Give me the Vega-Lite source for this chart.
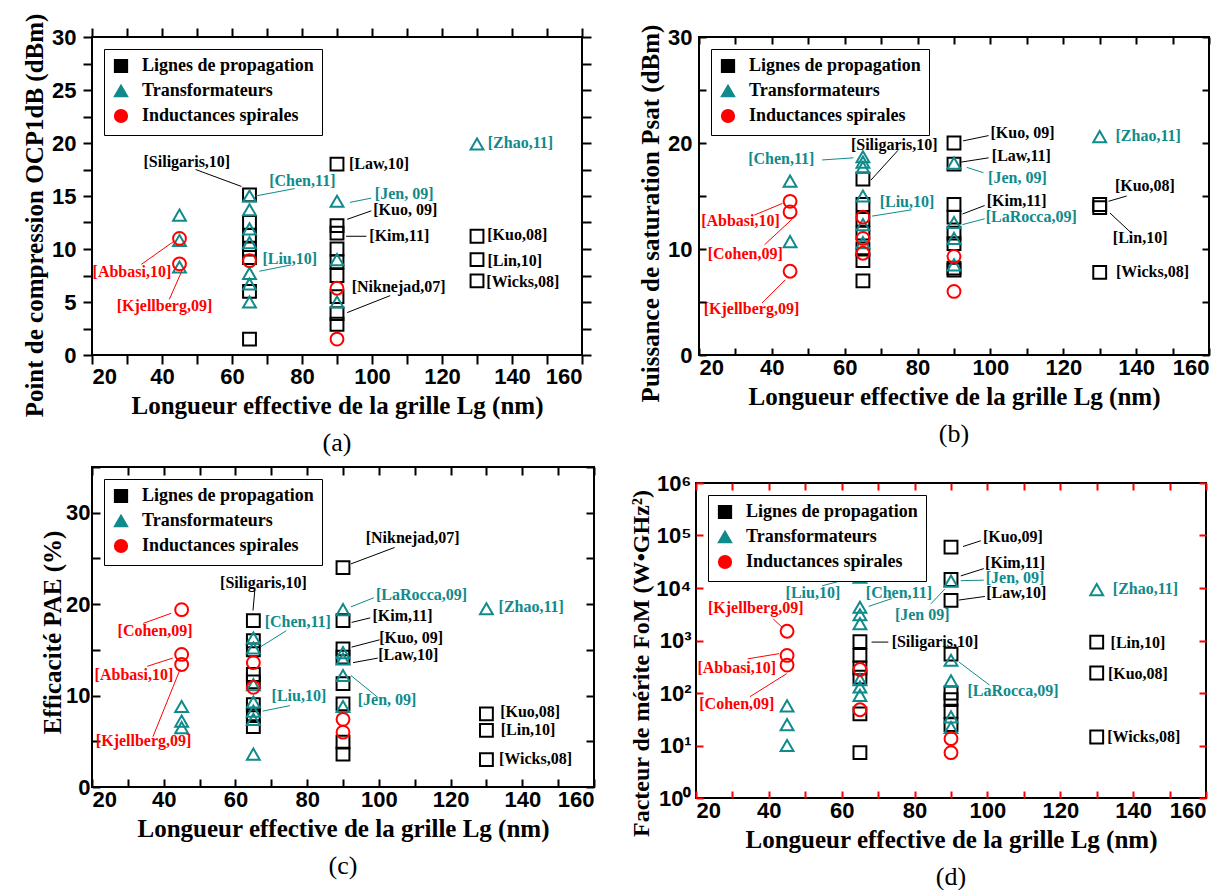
{
"$schema": "https://vega.github.io/schema/vega-lite/v6.json",
"background": "white",
"padding": {"left": 21, "top": 12, "right": 5, "bottom": 0},
"config": {
  "view": {"stroke": "black", "strokeWidth": 2},
  "axis": {"labelFont": "Liberation Sans", "labelFontWeight": "bold", "labelFontSize": 22, "labelColor": "black",
    "titleFont": "Liberation Serif", "titleFontWeight": "bold", "titleFontSize": 25, "titleColor": "black",
    "domain": false, "ticks": true, "tickColor": "black", "tickOpacity": 1, "tickWidth": 2, "tickSize": 7, "offset": -7, "grid": false, "zindex": 1},
  "legend": {"orient": "top-left", "offset": 12, "strokeColor": "black", "fillColor": "white", "padding": 8,
    "labelFont": "Liberation Serif", "labelFontWeight": "bold", "labelFontSize": 18, "labelColor": "black", "labelLimit": 400,
    "symbolStrokeWidth": 2, "symbolSize": 150, "rowPadding": 4, "labelOffset": 12, "symbolFillColor": "transparent"},
  "title": {"font": "Liberation Serif", "fontSize": 26, "fontWeight": "normal", "color": "black"}
},
"datasets": {
"a_pts": [
{"Lg":65,"v":15.1,"type":"Lignes de propagation"},{"Lg":65,"v":12.5,"type":"Lignes de propagation"},{"Lg":65,"v":11.3,"type":"Lignes de propagation"},{"Lg":65,"v":10.0,"type":"Lignes de propagation"},{"Lg":65,"v":9.2,"type":"Lignes de propagation"},{"Lg":65,"v":6.0,"type":"Lignes de propagation"},{"Lg":65,"v":1.5,"type":"Lignes de propagation"},
{"Lg":90,"v":18.0,"type":"Lignes de propagation"},{"Lg":90,"v":12.2,"type":"Lignes de propagation"},{"Lg":90,"v":11.5,"type":"Lignes de propagation"},{"Lg":90,"v":10.0,"type":"Lignes de propagation"},{"Lg":90,"v":8.8,"type":"Lignes de propagation"},{"Lg":90,"v":7.5,"type":"Lignes de propagation"},{"Lg":90,"v":5.5,"type":"Lignes de propagation"},{"Lg":90,"v":3.9,"type":"Lignes de propagation"},{"Lg":90,"v":2.9,"type":"Lignes de propagation"},
{"Lg":130,"v":11.2,"type":"Lignes de propagation"},{"Lg":130,"v":9.0,"type":"Lignes de propagation"},{"Lg":130,"v":7.0,"type":"Lignes de propagation"},
{"Lg":45,"v":13.2,"type":"Transformateurs"},{"Lg":45,"v":10.8,"type":"Transformateurs"},{"Lg":45,"v":8.3,"type":"Transformateurs"},
{"Lg":65,"v":15.0,"type":"Transformateurs"},{"Lg":65,"v":13.7,"type":"Transformateurs"},{"Lg":65,"v":11.9,"type":"Transformateurs"},{"Lg":65,"v":10.6,"type":"Transformateurs"},{"Lg":65,"v":7.7,"type":"Transformateurs"},{"Lg":65,"v":6.7,"type":"Transformateurs"},{"Lg":65,"v":5.0,"type":"Transformateurs"},
{"Lg":90,"v":14.5,"type":"Transformateurs"},{"Lg":90,"v":9.0,"type":"Transformateurs"},{"Lg":90,"v":5.0,"type":"Transformateurs"},{"Lg":130,"v":19.9,"type":"Transformateurs"},
{"Lg":45,"v":11.0,"type":"Inductances spirales"},{"Lg":45,"v":8.6,"type":"Inductances spirales"},{"Lg":65,"v":8.9,"type":"Inductances spirales"},{"Lg":90,"v":6.3,"type":"Inductances spirales"},{"Lg":90,"v":1.5,"type":"Inductances spirales"}
],
"a_lab": [
{"x":47.1,"y":18.2,"label":"[Siligaris,10]","type":"Lignes de propagation"},
{"x":80.1,"y":16.4,"label":"[Chen,11]","type":"Transformateurs"},
{"x":76.5,"y":9.1,"label":"[Liu,10]","type":"Transformateurs"},
{"x":31.4,"y":7.8,"label":"[Abbasi,10]","type":"Inductances spirales"},
{"x":40.7,"y":4.6,"label":"[Kjellberg,09]","type":"Inductances spirales"},
{"x":102.0,"y":18.0,"label":"[Law,10]","type":"Lignes de propagation"},
{"x":109.2,"y":15.2,"label":"[Jen, 09]","type":"Transformateurs"},
{"x":109.5,"y":13.7,"label":"[Kuo, 09]","type":"Lignes de propagation"},
{"x":107.8,"y":11.2,"label":"[Kim,11]","type":"Lignes de propagation"},
{"x":107.6,"y":6.4,"label":"[Niknejad,07]","type":"Lignes de propagation"},
{"x":142.4,"y":20.0,"label":"[Zhao,11]","type":"Transformateurs"},
{"x":141.5,"y":11.3,"label":"[Kuo,08]","type":"Lignes de propagation"},
{"x":140.8,"y":8.9,"label":"[Lin,10]","type":"Lignes de propagation"},
{"x":143.1,"y":6.9,"label":"[Wicks,08]","type":"Lignes de propagation"}
],
"a_arr": [
{"x":49.6,"y":17.5,"x2":62.7,"y2":15.9,"type":"Lignes de propagation"},
{"x":77.9,"y":15.7,"x2":66.7,"y2":15.0,"type":"Transformateurs"},
{"x":76.9,"y":8.5,"x2":67.8,"y2":7.9,"type":"Transformateurs"},
{"x":99.8,"y":14.8,"x2":93.7,"y2":14.4,"type":"Transformateurs"},
{"x":99.8,"y":13.6,"x2":92.9,"y2":12.8,"type":"Lignes de propagation"},
{"x":98.4,"y":11.2,"x2":92.6,"y2":11.2,"type":"Lignes de propagation"},
{"x":105.2,"y":5.6,"x2":92.9,"y2":4.0,"type":"Lignes de propagation"},
{"x":34.1,"y":8.55,"x2":43.5,"y2":10.75,"type":"Inductances spirales"},
{"x":42.1,"y":5.25,"x2":45.9,"y2":8.1,"type":"Inductances spirales"}
],
"b_pts": [
{"Lg":65,"v":16.6,"type":"Lignes de propagation"},{"Lg":65,"v":14.2,"type":"Lignes de propagation"},{"Lg":65,"v":12.8,"type":"Lignes de propagation"},{"Lg":65,"v":11.5,"type":"Lignes de propagation"},{"Lg":65,"v":10.0,"type":"Lignes de propagation"},{"Lg":65,"v":8.9,"type":"Lignes de propagation"},{"Lg":65,"v":7.0,"type":"Lignes de propagation"},
{"Lg":90,"v":20.0,"type":"Lignes de propagation"},{"Lg":90,"v":18.0,"type":"Lignes de propagation"},{"Lg":90,"v":14.2,"type":"Lignes de propagation"},{"Lg":90,"v":13.0,"type":"Lignes de propagation"},{"Lg":90,"v":11.5,"type":"Lignes de propagation"},{"Lg":90,"v":10.5,"type":"Lignes de propagation"},{"Lg":90,"v":8.2,"type":"Lignes de propagation"},{"Lg":90,"v":8.0,"type":"Lignes de propagation"},
{"Lg":130,"v":14.2,"type":"Lignes de propagation"},{"Lg":130,"v":13.9,"type":"Lignes de propagation"},{"Lg":130,"v":7.8,"type":"Lignes de propagation"},
{"Lg":45,"v":16.4,"type":"Transformateurs"},{"Lg":45,"v":10.7,"type":"Transformateurs"},
{"Lg":65,"v":18.7,"type":"Transformateurs"},{"Lg":65,"v":18.2,"type":"Transformateurs"},{"Lg":65,"v":17.7,"type":"Transformateurs"},{"Lg":65,"v":15.0,"type":"Transformateurs"},{"Lg":65,"v":12.3,"type":"Transformateurs"},{"Lg":65,"v":10.6,"type":"Transformateurs"},
{"Lg":90,"v":18.1,"type":"Transformateurs"},{"Lg":90,"v":12.5,"type":"Transformateurs"},{"Lg":90,"v":11.0,"type":"Transformateurs"},{"Lg":90,"v":8.5,"type":"Transformateurs"},{"Lg":130,"v":20.6,"type":"Transformateurs"},
{"Lg":45,"v":14.5,"type":"Inductances spirales"},{"Lg":45,"v":13.5,"type":"Inductances spirales"},{"Lg":45,"v":7.9,"type":"Inductances spirales"},
{"Lg":65,"v":13.0,"type":"Inductances spirales"},{"Lg":65,"v":11.0,"type":"Inductances spirales"},{"Lg":65,"v":9.6,"type":"Inductances spirales"},
{"Lg":90,"v":9.3,"type":"Inductances spirales"},{"Lg":90,"v":6.0,"type":"Inductances spirales"}
],
"b_lab": [
{"x":108.8,"y":20.9,"label":"[Kuo, 09]","type":"Lignes de propagation"},
{"x":108.5,"y":18.8,"label":"[Law,11]","type":"Lignes de propagation"},
{"x":107.4,"y":16.7,"label":"[Jen, 09]","type":"Transformateurs"},
{"x":107.2,"y":14.5,"label":"[Kim,11]","type":"Lignes de propagation"},
{"x":111.2,"y":13.0,"label":"[LaRocca,09]","type":"Transformateurs"},
{"x":143.3,"y":20.7,"label":"[Zhao,11]","type":"Transformateurs"},
{"x":142.4,"y":15.9,"label":"[Kuo,08]","type":"Lignes de propagation"},
{"x":141.1,"y":11.05,"label":"[Lin,10]","type":"Lignes de propagation"},
{"x":144.5,"y":7.8,"label":"[Wicks,08]","type":"Lignes de propagation"},
{"x":42.6,"y":18.5,"label":"[Chen,11]","type":"Transformateurs"},
{"x":73.6,"y":19.8,"label":"[Siligaris,10]","type":"Lignes de propagation"},
{"x":77.1,"y":14.4,"label":"[Liu,10]","type":"Transformateurs"},
{"x":31.4,"y":12.6,"label":"[Abbasi,10]","type":"Inductances spirales"},
{"x":32.7,"y":9.5,"label":"[Cohen,09]","type":"Inductances spirales"},
{"x":34.4,"y":4.3,"label":"[Kjellberg,09]","type":"Inductances spirales"}
],
"b_arr": [
{"x":53.8,"y":18.4,"x2":62.4,"y2":18.6,"type":"Transformateurs"},
{"x":74.6,"y":19.3,"x2":67.2,"y2":16.5,"type":"Lignes de propagation"},
{"x":78.4,"y":13.7,"x2":67.5,"y2":13.1,"type":"Transformateurs"},
{"x":35.2,"y":13.2,"x2":42.9,"y2":14.3,"type":"Inductances spirales"},
{"x":38.0,"y":10.4,"x2":45.5,"y2":12.8,"type":"Inductances spirales"},
{"x":37.3,"y":4.9,"x2":43.7,"y2":7.1,"type":"Inductances spirales"},
{"x":99.5,"y":20.7,"x2":92.5,"y2":20.2,"type":"Lignes de propagation"},
{"x":99.5,"y":18.6,"x2":92.0,"y2":18.2,"type":"Lignes de propagation"},
{"x":98.1,"y":17.2,"x2":93.5,"y2":17.7,"type":"Transformateurs"},
{"x":98.4,"y":14.1,"x2":92.3,"y2":13.3,"type":"Lignes de propagation"},
{"x":98.4,"y":12.85,"x2":92.3,"y2":12.3,"type":"Transformateurs"},
{"x":137.4,"y":15.0,"x2":132.4,"y2":14.5,"type":"Lignes de propagation"},
{"x":138.7,"y":11.5,"x2":132.8,"y2":13.4,"type":"Lignes de propagation"}
],
"c_pts": [
{"Lg":65,"v":18.2,"type":"Lignes de propagation"},{"Lg":65,"v":16.0,"type":"Lignes de propagation"},{"Lg":65,"v":15.0,"type":"Lignes de propagation"},{"Lg":65,"v":12.3,"type":"Lignes de propagation"},{"Lg":65,"v":11.5,"type":"Lignes de propagation"},{"Lg":65,"v":9.0,"type":"Lignes de propagation"},{"Lg":65,"v":7.8,"type":"Lignes de propagation"},{"Lg":65,"v":6.6,"type":"Lignes de propagation"},
{"Lg":90,"v":24.0,"type":"Lignes de propagation"},{"Lg":90,"v":18.2,"type":"Lignes de propagation"},{"Lg":90,"v":15.1,"type":"Lignes de propagation"},{"Lg":90,"v":14.2,"type":"Lignes de propagation"},{"Lg":90,"v":11.3,"type":"Lignes de propagation"},{"Lg":90,"v":9.1,"type":"Lignes de propagation"},{"Lg":90,"v":4.9,"type":"Lignes de propagation"},{"Lg":90,"v":3.6,"type":"Lignes de propagation"},
{"Lg":130,"v":8.0,"type":"Lignes de propagation"},{"Lg":130,"v":6.2,"type":"Lignes de propagation"},{"Lg":130,"v":3.0,"type":"Lignes de propagation"},
{"Lg":45,"v":8.8,"type":"Transformateurs"},{"Lg":45,"v":7.2,"type":"Transformateurs"},{"Lg":45,"v":6.5,"type":"Transformateurs"},
{"Lg":65,"v":16.3,"type":"Transformateurs"},{"Lg":65,"v":15.2,"type":"Transformateurs"},{"Lg":65,"v":11.2,"type":"Transformateurs"},{"Lg":65,"v":9.3,"type":"Transformateurs"},{"Lg":65,"v":8.3,"type":"Transformateurs"},{"Lg":65,"v":7.4,"type":"Transformateurs"},{"Lg":65,"v":3.6,"type":"Transformateurs"},
{"Lg":90,"v":19.4,"type":"Transformateurs"},{"Lg":90,"v":14.7,"type":"Transformateurs"},{"Lg":90,"v":14.0,"type":"Transformateurs"},{"Lg":90,"v":12.2,"type":"Transformateurs"},{"Lg":90,"v":8.8,"type":"Transformateurs"},{"Lg":130,"v":19.5,"type":"Transformateurs"},
{"Lg":45,"v":19.4,"type":"Inductances spirales"},{"Lg":45,"v":14.5,"type":"Inductances spirales"},{"Lg":45,"v":13.4,"type":"Inductances spirales"},
{"Lg":65,"v":13.6,"type":"Inductances spirales"},{"Lg":65,"v":10.9,"type":"Inductances spirales"},{"Lg":90,"v":7.4,"type":"Inductances spirales"},{"Lg":90,"v":6.0,"type":"Inductances spirales"}
],
"c_lab": [
{"x":109.4,"y":27.2,"label":"[Niknejad,07]","type":"Lignes de propagation"},
{"x":67.8,"y":22.3,"label":"[Siligaris,10]","type":"Lignes de propagation"},
{"x":77.4,"y":18.0,"label":"[Chen,11]","type":"Transformateurs"},
{"x":77.7,"y":9.9,"label":"[Liu,10]","type":"Transformateurs"},
{"x":37.6,"y":17.1,"label":"[Cohen,09]","type":"Inductances spirales"},
{"x":31.7,"y":12.2,"label":"[Abbasi,10]","type":"Inductances spirales"},
{"x":34.4,"y":5.0,"label":"[Kjellberg,09]","type":"Inductances spirales"},
{"x":111.9,"y":21.0,"label":"[LaRocca,09]","type":"Transformateurs"},
{"x":106.6,"y":18.7,"label":"[Kim,11]","type":"Lignes de propagation"},
{"x":109.0,"y":16.3,"label":"[Kuo, 09]","type":"Lignes de propagation"},
{"x":108.2,"y":14.4,"label":"[Law,10]","type":"Lignes de propagation"},
{"x":102.3,"y":9.5,"label":"[Jen, 09]","type":"Transformateurs"},
{"x":142.5,"y":19.7,"label":"[Zhao,11]","type":"Transformateurs"},
{"x":142.2,"y":8.2,"label":"[Kuo,08]","type":"Lignes de propagation"},
{"x":141.6,"y":6.2,"label":"[Lin,10]","type":"Lignes de propagation"},
{"x":143.7,"y":3.1,"label":"[Wicks,08]","type":"Lignes de propagation"}
],
"c_arr": [
{"x":104.4,"y":26.2,"x2":92.2,"y2":24.4,"type":"Lignes de propagation"},
{"x":65.4,"y":21.5,"x2":64.9,"y2":19.3,"type":"Lignes de propagation"},
{"x":74.2,"y":17.1,"x2":66.9,"y2":15.3,"type":"Transformateurs"},
{"x":75.2,"y":8.9,"x2":67.6,"y2":8.3,"type":"Transformateurs"},
{"x":34.3,"y":17.9,"x2":42.1,"y2":19.0,"type":"Inductances spirales"},
{"x":35.4,"y":13.2,"x2":42.5,"y2":14.1,"type":"Inductances spirales"},
{"x":37.0,"y":5.5,"x2":44.6,"y2":12.9,"type":"Inductances spirales"},
{"x":98.6,"y":20.7,"x2":92.2,"y2":19.7,"type":"Transformateurs"},
{"x":97.6,"y":18.5,"x2":92.4,"y2":18.0,"type":"Lignes de propagation"},
{"x":100.2,"y":16.1,"x2":92.4,"y2":15.3,"type":"Lignes de propagation"},
{"x":99.7,"y":14.1,"x2":92.8,"y2":13.6,"type":"Lignes de propagation"},
{"x":99.7,"y":9.8,"x2":92.2,"y2":12.2,"type":"Transformateurs"}
],
"d_pts": [
{"Lg":65,"v":950,"type":"Lignes de propagation"},{"Lg":65,"v":520,"type":"Lignes de propagation"},{"Lg":65,"v":300,"type":"Lignes de propagation"},{"Lg":65,"v":200,"type":"Lignes de propagation"},{"Lg":65,"v":40,"type":"Lignes de propagation"},{"Lg":65,"v":7.3,"type":"Lignes de propagation"},
{"Lg":90,"v":60000,"type":"Lignes de propagation"},{"Lg":90,"v":14500,"type":"Lignes de propagation"},{"Lg":90,"v":5800,"type":"Lignes de propagation"},{"Lg":90,"v":550,"type":"Lignes de propagation"},{"Lg":90,"v":100,"type":"Lignes de propagation"},{"Lg":90,"v":75,"type":"Lignes de propagation"},{"Lg":90,"v":45,"type":"Lignes de propagation"},{"Lg":90,"v":25,"type":"Lignes de propagation"},
{"Lg":130,"v":930,"type":"Lignes de propagation"},{"Lg":130,"v":240,"type":"Lignes de propagation"},{"Lg":130,"v":14.5,"type":"Lignes de propagation"},
{"Lg":45,"v":57,"type":"Transformateurs"},{"Lg":45,"v":25,"type":"Transformateurs"},{"Lg":45,"v":10,"type":"Transformateurs"},
{"Lg":65,"v":16000,"type":"Transformateurs"},{"Lg":65,"v":4300,"type":"Transformateurs"},{"Lg":65,"v":3100,"type":"Transformateurs"},{"Lg":65,"v":2100,"type":"Transformateurs"},{"Lg":65,"v":180,"type":"Transformateurs"},{"Lg":65,"v":130,"type":"Transformateurs"},{"Lg":65,"v":90,"type":"Transformateurs"},
{"Lg":90,"v":13500,"type":"Transformateurs"},{"Lg":90,"v":420,"type":"Transformateurs"},{"Lg":90,"v":170,"type":"Transformateurs"},{"Lg":90,"v":35,"type":"Transformateurs"},{"Lg":90,"v":22,"type":"Transformateurs"},{"Lg":130,"v":9300,"type":"Transformateurs"},
{"Lg":45,"v":1500,"type":"Inductances spirales"},{"Lg":45,"v":520,"type":"Inductances spirales"},{"Lg":45,"v":340,"type":"Inductances spirales"},
{"Lg":65,"v":280,"type":"Inductances spirales"},{"Lg":65,"v":48,"type":"Inductances spirales"},{"Lg":90,"v":13.5,"type":"Inductances spirales"},{"Lg":90,"v":7.3,"type":"Inductances spirales"}
],
"d_lab": [
{"x":107.0,"y":95000,"label":"[Kuo,09]","type":"Lignes de propagation"},
{"x":107.6,"y":30000,"label":"[Kim,11]","type":"Lignes de propagation"},
{"x":107.6,"y":15500,"label":"[Jen, 09]","type":"Transformateurs"},
{"x":107.9,"y":7900,"label":"[Law,10]","type":"Lignes de propagation"},
{"x":52.1,"y":7960,"label":"[Liu,10]","type":"Transformateurs"},
{"x":75.7,"y":7960,"label":"[Chen,11]","type":"Transformateurs"},
{"x":82.1,"y":3090,"label":"[Jen 09]","type":"Transformateurs"},
{"x":36.4,"y":4100,"label":"[Kjellberg,09]","type":"Inductances spirales"},
{"x":85.6,"y":955,"label":"[Siligaris,10]","type":"Lignes de propagation"},
{"x":31.2,"y":300,"label":"[Abbasi,10]","type":"Inductances spirales"},
{"x":31.2,"y":63,"label":"[Cohen,09]","type":"Inductances spirales"},
{"x":107.0,"y":108,"label":"[LaRocca,09]","type":"Transformateurs"},
{"x":143.4,"y":9550,"label":"[Zhao,11]","type":"Transformateurs"},
{"x":141.3,"y":910,"label":"[Lin,10]","type":"Lignes de propagation"},
{"x":141.3,"y":234,"label":"[Kuo,08]","type":"Lignes de propagation"},
{"x":142.9,"y":14.7,"label":"[Wicks,08]","type":"Lignes de propagation"}
],
"d_arr": [
{"x":98.2,"y":79400,"x2":93.3,"y2":61700,"type":"Lignes de propagation"},
{"x":99.0,"y":23400,"x2":92.7,"y2":17000,"type":"Lignes de propagation"},
{"x":99.0,"y":14100,"x2":92.7,"y2":13800,"type":"Transformateurs"},
{"x":99.3,"y":6900,"x2":92.2,"y2":5900,"type":"Lignes de propagation"},
{"x":54.6,"y":11000,"x2":60.5,"y2":14100,"type":"Transformateurs"},
{"x":73.8,"y":6300,"x2":67.4,"y2":4470,"type":"Transformateurs"},
{"x":84.5,"y":5000,"x2":88.3,"y2":9550,"type":"Transformateurs"},
{"x":41.2,"y":2570,"x2":43.7,"y2":1780,"type":"Inductances spirales"},
{"x":72.8,"y":933,"x2":68.2,"y2":933,"type":"Lignes de propagation"},
{"x":34.2,"y":447,"x2":42.8,"y2":562,"type":"Inductances spirales"},
{"x":44.9,"y":234,"x2":34.8,"y2":85,"type":"Inductances spirales"},
{"x":100.6,"y":141,"x2":92.2,"y2":389,"type":"Transformateurs"}
]
},
"resolve": {"scale": {"color": "independent", "shape": "independent"}, "legend": {"color": "independent", "shape": "independent"}},
"spacing": 7,
"vconcat": [
{"hconcat": [
{"width": 490, "height": 318,
 "title": {"text": "(a)", "orient": "bottom", "offset": 12},
 "layer": [
  {"data": {"name": "a_pts"}, "mark": {"type": "point", "filled": false, "strokeWidth": 2, "size": 165, "opacity": 1},
   "encoding": {
    "x": {"field": "Lg", "type": "quantitative", "scale": {"domain": [20,160], "nice": false}, "axis": {"orient": "bottom", "offset": 0, "tickSize": 9, "title": "Longueur effective de la grille Lg (nm)", "values": [20,30,40,50,60,70,80,90,100,110,120,130,140,150,160], "labelExpr": "datum.value % 20 == 0 ? datum.label : ''", "labelPadding": 2, "titlePadding": 6}},
    "y": {"field": "v", "type": "quantitative", "scale": {"domain": [0,30], "nice": false}, "axis": {"orient": "left", "offset": 0, "tickSize": 9, "title": "Point de compression OCP1dB (dBm)", "titleY": 178, "values": [0,2.5,5,7.5,10,12.5,15,17.5,20,22.5,25,27.5,30], "labelExpr": "datum.value % 5 == 0 ? datum.label : ''", "labelPadding": 7, "titlePadding": 4}},
    "color": {"field": "type", "type": "nominal", "scale": {"domain": ["Lignes de propagation","Transformateurs","Inductances spirales"], "range": ["#000000","#108a8a","#ff0000"]}, "legend": {"title": null, "orient": "top-left", "encoding": {"symbols": {"fill": {"value": "transparent"}, "strokeWidth": {"value": 2}}}}},
    "shape": {"field": "type", "type": "nominal", "scale": {"domain": ["Lignes de propagation","Transformateurs","Inductances spirales"], "range": ["square","triangle-up","circle"]}, "legend": {"title": null, "orient": "top-left", "encoding": {"symbols": {"fill": {"value": "transparent"}, "strokeWidth": {"value": 2}}}}}
   }},
  {"data": {"name": "a_arr"}, "mark": {"type": "rule", "strokeWidth": 1},
   "encoding": {"x": {"field": "x", "type": "quantitative", "axis": null}, "y": {"field": "y", "type": "quantitative", "axis": null}, "x2": {"field": "x2"}, "y2": {"field": "y2"}, "color": {"field": "type", "type": "nominal", "legend": null}}},
  {"data": {"name": "a_lab"}, "mark": {"type": "text", "font": "Liberation Serif", "fontWeight": "bold", "fontSize": 16},
   "encoding": {"x": {"field": "x", "type": "quantitative", "axis": null}, "y": {"field": "y", "type": "quantitative", "axis": null}, "text": {"field": "label"}, "color": {"field": "type", "type": "nominal", "legend": null}}},
  {"data": {"name": "a_pts"}, "mark": {"type": "point", "opacity": 0},
   "encoding": {"x": {"field": "Lg", "type": "quantitative", "axis": {"orient": "top", "offset": 0, "tickSize": 9, "labels": false, "title": null, "values": [20,30,40,50,60,70,80,90,100,110,120,130,140,150,160]}}, "y": {"field": "v", "type": "quantitative", "axis": {"orient": "right", "offset": 0, "tickSize": 9, "labels": false, "title": null, "values": [0,2.5,5,7.5,10,12.5,15,17.5,20,22.5,25,27.5,30]}}}}
 ]},
{"width": 510, "height": 318,
 "title": {"text": "(b)", "orient": "bottom", "offset": 12},
 "layer": [
  {"data": {"name": "b_pts"}, "mark": {"type": "point", "filled": false, "strokeWidth": 2, "size": 165, "opacity": 1},
   "encoding": {
    "x": {"field": "Lg", "type": "quantitative", "scale": {"domain": [20,160], "nice": false}, "axis": {"orient": "bottom", "zindex": 3, "title": "Longueur effective de la grille Lg (nm)", "values": [20,30,40,50,60,70,80,90,100,110,120,130,140,150,160], "labelExpr": "datum.value % 20 == 0 ? datum.label : ''", "labelPadding": 2, "titlePadding": 6}},
    "y": {"field": "v", "type": "quantitative", "scale": {"domain": [0,30], "nice": false}, "axis": {"orient": "left", "zindex": 3, "title": "Puissance de saturation Psat (dBm)", "titleY": 176, "values": [0,5,10,15,20,25,30], "labelExpr": "datum.value % 10 == 0 ? datum.label : ''", "labelPadding": 7, "titlePadding": 4}},
    "color": {"field": "type", "type": "nominal", "scale": {"domain": ["Lignes de propagation","Transformateurs","Inductances spirales"], "range": ["#000000","#108a8a","#ff0000"]}, "legend": {"title": null, "orient": "top-left", "encoding": {"symbols": {"fill": {"value": "transparent"}, "strokeWidth": {"value": 2}}}}},
    "shape": {"field": "type", "type": "nominal", "scale": {"domain": ["Lignes de propagation","Transformateurs","Inductances spirales"], "range": ["square","triangle-up","circle"]}, "legend": {"title": null, "orient": "top-left", "encoding": {"symbols": {"fill": {"value": "transparent"}, "strokeWidth": {"value": 2}}}}}
   }},
  {"data": {"name": "b_arr"}, "mark": {"type": "rule", "strokeWidth": 1},
   "encoding": {"x": {"field": "x", "type": "quantitative", "axis": null}, "y": {"field": "y", "type": "quantitative", "axis": null}, "x2": {"field": "x2"}, "y2": {"field": "y2"}, "color": {"field": "type", "type": "nominal", "legend": null}}},
  {"data": {"name": "b_lab"}, "mark": {"type": "text", "font": "Liberation Serif", "fontWeight": "bold", "fontSize": 16},
   "encoding": {"x": {"field": "x", "type": "quantitative", "axis": null}, "y": {"field": "y", "type": "quantitative", "axis": null}, "text": {"field": "label"}, "color": {"field": "type", "type": "nominal", "legend": null}}},
  {"data": {"name": "b_pts"}, "mark": {"type": "point", "opacity": 0},
   "encoding": {"x": {"field": "Lg", "type": "quantitative", "axis": {"orient": "top", "zindex": 3, "labels": false, "title": null, "values": [20,30,40,50,60,70,80,90,100,110,120,130,140,150,160]}}, "y": {"field": "v", "type": "quantitative", "axis": {"orient": "right", "zindex": 3, "labels": false, "title": null, "values": [0,5,10,15,20,25,30]}}}}
 ]}
], "spacing": 44, "resolve": {"scale": {"color": "independent", "shape": "independent"}, "legend": {"color": "independent", "shape": "independent"}}},
{"hconcat": [
{"width": 502, "height": 320,
 "title": {"text": "(c)", "orient": "bottom", "offset": 12},
 "layer": [
  {"data": {"name": "c_pts"}, "mark": {"type": "point", "filled": false, "strokeWidth": 2, "size": 165, "opacity": 1},
   "encoding": {
    "x": {"field": "Lg", "type": "quantitative", "scale": {"domain": [20,160], "nice": false}, "axis": {"orient": "bottom", "offset": 0, "tickSize": -8, "title": "Longueur effective de la grille Lg (nm)", "values": [20,30,40,50,60,70,80,90,100,110,120,130,140,150,160], "labelExpr": "datum.value % 20 == 0 ? datum.label : ''", "labelPadding": 10, "titlePadding": 6}},
    "y": {"field": "v", "type": "quantitative", "scale": {"domain": [0,35], "nice": false}, "axis": {"orient": "left", "offset": 0, "tickSize": -8, "title": "Efficacité PAE (%)", "titleY": 165, "values": [0,5,10,15,20,25,30,35], "labelExpr": "datum.value % 10 == 0 ? datum.label : ''", "labelPadding": 10, "titlePadding": 0}},
    "color": {"field": "type", "type": "nominal", "scale": {"domain": ["Lignes de propagation","Transformateurs","Inductances spirales"], "range": ["#000000","#108a8a","#ff0000"]}, "legend": {"title": null, "orient": "top-left", "encoding": {"symbols": {"fill": {"value": "transparent"}, "strokeWidth": {"value": 2}}}}},
    "shape": {"field": "type", "type": "nominal", "scale": {"domain": ["Lignes de propagation","Transformateurs","Inductances spirales"], "range": ["square","triangle-up","circle"]}, "legend": {"title": null, "orient": "top-left", "encoding": {"symbols": {"fill": {"value": "transparent"}, "strokeWidth": {"value": 2}}}}}
   }},
  {"data": {"name": "c_arr"}, "mark": {"type": "rule", "strokeWidth": 1},
   "encoding": {"x": {"field": "x", "type": "quantitative", "axis": null}, "y": {"field": "y", "type": "quantitative", "axis": null}, "x2": {"field": "x2"}, "y2": {"field": "y2"}, "color": {"field": "type", "type": "nominal", "legend": null}}},
  {"data": {"name": "c_lab"}, "mark": {"type": "text", "font": "Liberation Serif", "fontWeight": "bold", "fontSize": 16},
   "encoding": {"x": {"field": "x", "type": "quantitative", "axis": null}, "y": {"field": "y", "type": "quantitative", "axis": null}, "text": {"field": "label"}, "color": {"field": "type", "type": "nominal", "legend": null}}},
  {"data": {"name": "c_pts"}, "mark": {"type": "point", "opacity": 0},
   "encoding": {"x": {"field": "Lg", "type": "quantitative", "axis": {"orient": "top", "offset": 0, "tickSize": -8, "labels": false, "title": null, "values": [20,30,40,50,60,70,80,90,100,110,120,130,140,150,160]}}, "y": {"field": "v", "type": "quantitative", "axis": {"orient": "right", "offset": 0, "tickSize": -8, "labels": false, "title": null, "values": [0,5,10,15,20,25,30,35]}}}}
 ]},
{"vconcat": [
 {"width": 510, "height": 1, "data": {"values": [{"s": 0}]}, "mark": {"type": "point", "opacity": 0}, "encoding": {}, "view": {"stroke": null}},
 {"width": 510, "height": 315,
 "title": {"text": "(d)", "orient": "bottom", "offset": 12},
 "layer": [
  {"data": {"name": "d_pts"}, "mark": {"type": "point", "filled": false, "strokeWidth": 2, "size": 165, "opacity": 1},
   "encoding": {
    "x": {"field": "Lg", "type": "quantitative", "scale": {"domain": [20,160], "nice": false}, "axis": {"orient": "bottom", "tickColor": "red", "title": "Longueur effective de la grille Lg (nm)", "values": [20,30,40,50,60,70,80,90,100,110,120,130,140,150,160], "labelExpr": "datum.value % 20 == 0 ? datum.label : ''", "labelPadding": 2, "titlePadding": 6}},
    "y": {"field": "v", "type": "quantitative", "scale": {"type": "log", "domain": [1,1000000], "nice": false}, "axis": {"orient": "left", "tickColor": "red", "title": "Facteur de mérite FoM (W•GHz²)", "titleFontSize": 24, "titleY": 180, "values": [1,10,100,1000,10000,100000,1000000], "labelExpr": "datum.value == 1 ? '10⁰' : datum.value == 10 ? '10¹' : datum.value == 100 ? '10²' : datum.value == 1000 ? '10³' : datum.value == 10000 ? '10⁴' : datum.value == 100000 ? '10⁵' : '10⁶'", "labelPadding": 5, "titlePadding": 2}},
    "color": {"field": "type", "type": "nominal", "scale": {"domain": ["Lignes de propagation","Transformateurs","Inductances spirales"], "range": ["#000000","#108a8a","#ff0000"]}, "legend": {"title": null, "orient": "top-left", "encoding": {"symbols": {"fill": {"value": "transparent"}, "strokeWidth": {"value": 2}}}}},
    "shape": {"field": "type", "type": "nominal", "scale": {"domain": ["Lignes de propagation","Transformateurs","Inductances spirales"], "range": ["square","triangle-up","circle"]}, "legend": {"title": null, "orient": "top-left", "encoding": {"symbols": {"fill": {"value": "transparent"}, "strokeWidth": {"value": 2}}}}}
   }},
  {"data": {"name": "d_arr"}, "mark": {"type": "rule", "strokeWidth": 1},
   "encoding": {"x": {"field": "x", "type": "quantitative", "axis": null}, "y": {"field": "y", "type": "quantitative", "axis": null}, "x2": {"field": "x2"}, "y2": {"field": "y2"}, "color": {"field": "type", "type": "nominal", "legend": null}}},
  {"data": {"name": "d_lab"}, "mark": {"type": "text", "font": "Liberation Serif", "fontWeight": "bold", "fontSize": 16},
   "encoding": {"x": {"field": "x", "type": "quantitative", "axis": null}, "y": {"field": "y", "type": "quantitative", "axis": null}, "text": {"field": "label"}, "color": {"field": "type", "type": "nominal", "legend": null}}},
  {"data": {"name": "d_pts"}, "mark": {"type": "point", "opacity": 0},
   "encoding": {"x": {"field": "Lg", "type": "quantitative", "axis": {"orient": "top", "tickColor": "red", "labels": false, "title": null, "values": [20,30,40,50,60,70,80,90,100,110,120,130,140,150,160]}}, "y": {"field": "v", "type": "quantitative", "axis": {"orient": "right", "tickColor": "red", "labels": false, "title": null, "values": [1,10,100,1000,10000,100000,1000000]}}}}
 ]}
 ], "spacing": 0, "resolve": {"scale": {"color": "independent", "shape": "independent"}, "legend": {"color": "independent", "shape": "independent"}}}
], "spacing": 32, "resolve": {"scale": {"color": "independent", "shape": "independent"}, "legend": {"color": "independent", "shape": "independent"}}}
]
}
